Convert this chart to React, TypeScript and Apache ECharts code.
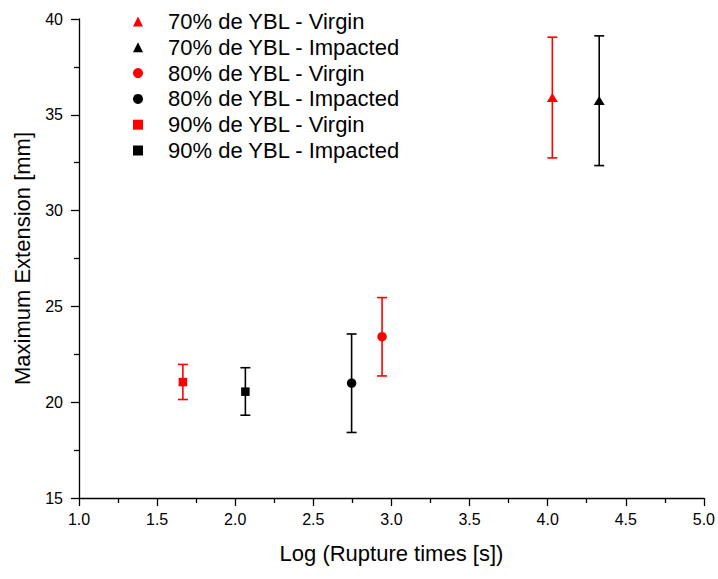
import React, { useEffect, useRef } from "react";
import * as echarts from "echarts";

const seriesNames = [
  "70% de YBL - Virgin",
  "70% de YBL - Impacted",
  "80% de YBL - Virgin",
  "80% de YBL - Impacted",
  "90% de YBL - Virgin",
  "90% de YBL - Impacted",
];
const seriesColors = ["#ff0000", "#000000", "#ff0000", "#000000", "#ff0000", "#000000"];
const seriesSymbols = ["triangle", "triangle", "circle", "circle", "rect", "rect"];
const symbolSizes: any[] = [[11, 9], [11, 9], 9.5, 9.5, 8.5, 8.5];
const logTimes = [4.03, 4.33, 2.94, 2.745, 1.665, 2.065];
const meanExt = [35.9, 35.75, 23.42, 21.0, 21.05, 20.55];
const lowerExt = [32.75, 32.35, 21.37, 18.42, 20.14, 19.32];
const upperExt = [39.05, 39.12, 25.46, 23.56, 21.97, 21.8];
const xTicks = [1.0, 1.5, 2.0, 2.5, 3.0, 3.5, 4.0, 4.5, 5.0];
const yTicks = [15, 20, 25, 30, 35, 40];

const FONT = "'Liberation Sans', Arial, sans-serif";

export default function App() {
  const ref = useRef<HTMLDivElement>(null);
  useEffect(() => {
    if (!ref.current) return;
    const chart = echarts.init(ref.current, null, { renderer: "svg" });
    const scatterSeries = seriesNames.map((name, i) => ({
      name,
      type: "scatter",
      symbol: seriesSymbols[i],
      symbolSize: symbolSizes[i],
      itemStyle: { color: seriesColors[i], opacity: 1 },
      data: [[logTimes[i], meanExt[i]]],
      z: 3,
    }));
    const errData = seriesNames.map((_, i) => [logTimes[i], lowerExt[i], upperExt[i], i]);
    const errorSeries = {
      type: "custom",
      name: "errorbars",
      data: errData,
      z: 2,
      renderItem: (params: any, api: any) => {
        const x = api.value(0);
        const lo = api.coord([x, api.value(1)]);
        const hi = api.coord([x, api.value(2)]);
        const idx = api.value(3);
        const color = seriesColors[idx];
        const hw = 5;
        const style = { stroke: color, lineWidth: 1.6, fill: "none" };
        return {
          type: "group",
          children: [
            { type: "line", shape: { x1: lo[0], y1: lo[1], x2: hi[0], y2: hi[1] }, style },
            { type: "line", shape: { x1: lo[0] - hw, y1: lo[1], x2: lo[0] + hw, y2: lo[1] }, style },
            { type: "line", shape: { x1: hi[0] - hw, y1: hi[1], x2: hi[0] + hw, y2: hi[1] }, style },
          ],
        };
      },
    };
    chart.setOption({
      animation: false,
      backgroundColor: "#ffffff",
      textStyle: { fontFamily: FONT },
      grid: { left: 79, right: 13, top: 19, bottom: 81, containLabel: false },
      legend: {
        orient: "vertical",
        left: 133,
        top: 10.5,
        padding: 0,
        itemWidth: 10,
        itemHeight: 10,
        itemGap: 3.8,
        textStyle: {
          fontSize: 22,
          lineHeight: 22,
          color: "#000",
          fontFamily: FONT,
          padding: [0, 0, 0, 20],
        },
        data: seriesNames.map((n, i) => ({
          name: n,
          icon: seriesSymbols[i],
          itemStyle: { color: seriesColors[i], opacity: 1 },
        })),
        selectedMode: false,
      },
      xAxis: {
        type: "value",
        min: 1,
        max: 5,
        interval: 0.5,
        name: "Log (Rupture times [s])",
        nameLocation: "middle",
        nameGap: 44,
        nameTextStyle: { fontSize: 22, color: "#000", fontFamily: FONT },
        axisLine: { show: true, onZero: false, lineStyle: { color: "#000", width: 1.3 } },
        axisTick: { show: true, inside: false, length: 8, lineStyle: { color: "#000", width: 1.3 } },
        minorTick: { show: true, splitNumber: 2, length: 5, lineStyle: { color: "#000", width: 1.3 } },
        axisLabel: {
          fontSize: 16,
          color: "#000",
          margin: 13,
          fontFamily: FONT,
          formatter: (v: number) => (xTicks.includes(v) ? v.toFixed(1) : ""),
        },
        splitLine: { show: false },
      },
      yAxis: {
        type: "value",
        min: 15,
        max: 40,
        interval: 5,
        name: "Maximum Extension [mm]",
        nameLocation: "middle",
        nameGap: 46,
        nameTextStyle: { fontSize: 22, color: "#000", fontFamily: FONT },
        axisLine: { show: true, onZero: false, lineStyle: { color: "#000", width: 1.3 } },
        axisTick: { show: true, inside: false, length: 8, lineStyle: { color: "#000", width: 1.3 } },
        minorTick: { show: true, splitNumber: 2, length: 5, lineStyle: { color: "#000", width: 1.3 } },
        axisLabel: {
          fontSize: 16,
          color: "#000",
          margin: 16,
          fontFamily: FONT,
          formatter: (v: number) => (yTicks.includes(v) ? String(v) : ""),
        },
        splitLine: { show: false },
      },
      series: [errorSeries, ...scatterSeries],
    });
    return () => chart.dispose();
  }, []);
  return <div ref={ref} style={{ width: 718, height: 579, position: "absolute", left: 0, top: 0 }} />;
}
